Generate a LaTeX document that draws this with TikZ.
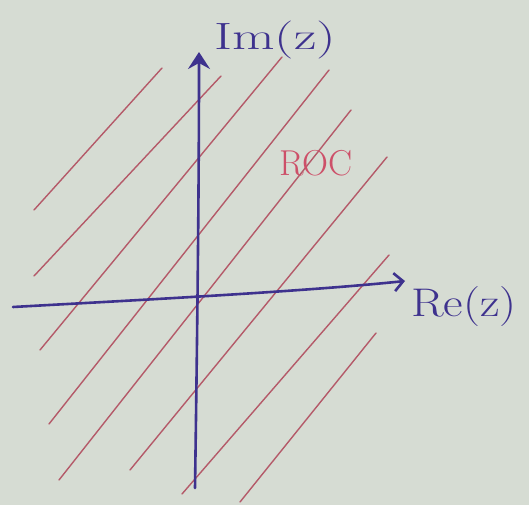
\documentclass[tikz,border=0pt]{standalone}
\usepackage{fontspec}
\usepackage{graphicx}
\usetikzlibrary{arrows.meta}
\definecolor{paper}{RGB}{214,220,211}
\definecolor{hatch}{RGB}{180,90,105}
\definecolor{axiscol}{RGB}{62,50,142}
\definecolor{roccol}{RGB}{205,80,105}
\begin{document}
\begin{tikzpicture}[x=1pt,y=-1pt,
  hatchline/.style={hatch, line width=1.4pt, line cap=round},
  axisline/.style={axiscol, line width=2.6pt, line cap=round},
  lbl/.style={text=axiscol, inner sep=0pt}]
\fill[paper] (0,0) rectangle (529,505);
\useasboundingbox (0,0) rectangle (529,505);
% hatch end points
\coordinate (a1) at (34,210);  \coordinate (a2) at (162,68);
\coordinate (b1) at (34,276);  \coordinate (b2) at (221,76);
\coordinate (c1) at (40,350);  \coordinate (c2) at (282,57);
\coordinate (d1) at (49,424);  \coordinate (d2) at (329,70);
\coordinate (e1) at (59,480);  \coordinate (e2) at (351,110);
\coordinate (f1) at (130,470); \coordinate (f2) at (387,157);
\coordinate (g1) at (182,494); \coordinate (g2) at (389,255);
\coordinate (h1) at (240,502); \coordinate (h2) at (376,333);
\foreach \l in {a,b,c,d,e,f,g,h}{\draw[hatchline] (\l1) -- (\l2);}
% axes
\coordinate (vb) at (195,488);
\coordinate (vt) at (199,52);
\coordinate (hl) at (13,307);
\coordinate (hr) at (405,281);
\draw[axisline, -{Stealth[length=17pt,width=22pt,inset=6pt]}] (vb) .. controls (197,350) and (199,200) .. (vt);
\draw[axisline, -{Straight Barb[length=9pt,width=18pt]}] (hl) .. controls (120,301) and (300,292) .. (hr);
% labels
\node[lbl, font=\fontsize{38}{38}\selectfont] (im) at (275,40) {\scalebox{1.45}[1]{Im(z)}};
\node[lbl, font=\fontsize{40}{40}\selectfont] (re) at (464,307) {\scalebox{1.2}[1]{Re(z)}};
\node[text=roccol, inner sep=0pt, font=\fontsize{36}{36}\selectfont] (roc) at (316,163) {ROC};
\end{tikzpicture}
\end{document}
